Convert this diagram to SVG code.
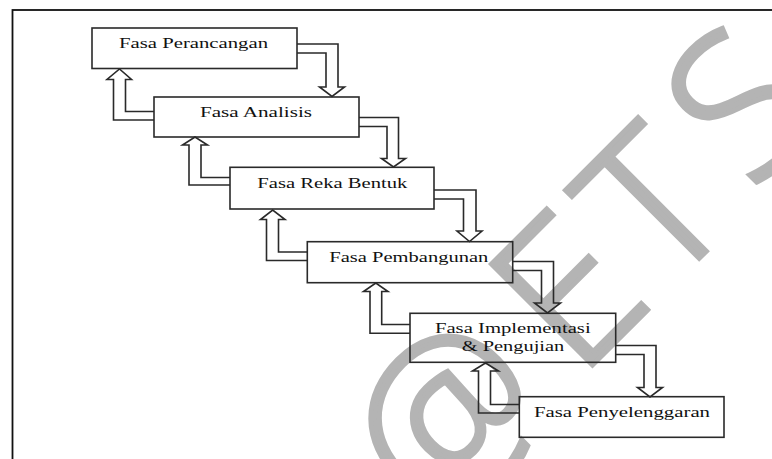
<svg xmlns="http://www.w3.org/2000/svg" width="772" height="459" viewBox="0 0 772 459">
  <style>
    .wm { font-family: "Open Sans", "DejaVu Sans", sans-serif; font-weight: 300; font-size: 200px; fill: #b4b4b4; stroke: #b4b4b4; stroke-width: 5; text-anchor: middle; }
    .box { fill: none; stroke: #2a2a2a; stroke-width: 1.6; }
    .arr { fill: none; stroke: #2a2a2a; stroke-width: 1.6; stroke-linejoin: miter; }
    .lbl { font-family: "Liberation Serif", "DejaVu Serif", "Times New Roman", serif; font-size: 15.5px; fill: #111; text-anchor: middle; }
  </style>
  <rect x="0" y="0" width="772" height="459" fill="#fff"/>
  <g id="watermark" transform="rotate(-45)">
    <text class="wm" x="21" y="677">@</text>
    <text class="wm" x="196" y="677">E</text>
    <text class="wm" x="317" y="677">T</text>
    <text class="wm" x="450" y="668">S</text>
  </g>
  <rect x="12.5" y="10" width="800" height="500" fill="none" stroke="#111" stroke-width="1.8"/>
  <g id="connectors">
    <path class="arr" d="M297 44 H338 V87 H344.5 L332 96.5 L319.5 87 H326 V53 H297"/>
    <path class="arr" d="M359 117.5 H398.5 V158.5 H405.5 L393.5 167 L381.5 158.5 H387 V126.5 H359"/>
    <path class="arr" d="M434 190 H476 V231 H482 L469.5 241.5 L457 231 H463.5 V199 H434"/>
    <path class="arr" d="M513 261.5 H553.5 V303 H560.5 L547.5 313 L534.5 303 H541.5 V270.5 H513"/>
    <path class="arr" d="M616 345.5 H656 V387.5 H662.5 L650 397 L637.5 387.5 H644 V354.5 H616"/>
    <path class="arr" d="M154 120 H113.5 V79.5 H107 L119.5 69 L131.5 79.5 H125.5 V111.5 H154"/>
    <path class="arr" d="M230 185 H189 V145 H182.5 L195 137 L207.5 145 H201 V177.5 H230"/>
    <path class="arr" d="M307 260.5 H266.5 V219.5 H260.5 L272.7 210 L285 219.5 H278.5 V252 H307"/>
    <path class="arr" d="M410 333.3 H370 V291.5 H363.5 L375.8 283 L388 291.5 H381.7 V324.5 H410"/>
    <path class="arr" d="M519 413 H478.5 V371 H472.5 L485.5 363 L498.5 371 H490.5 V404.5 H519"/>
  </g>
  <g id="n1">
    <rect class="box" x="92" y="28" width="205" height="40.5"/>
    <text class="lbl" x="193.5" y="48.3" textLength="149" lengthAdjust="spacingAndGlyphs">Fasa Perancangan</text>
  </g>
  <g id="n2">
    <rect class="box" x="154" y="97" width="205" height="40"/>
    <text class="lbl" x="256" y="117.3" textLength="112" lengthAdjust="spacingAndGlyphs">Fasa Analisis</text>
  </g>
  <g id="n3">
    <rect class="box" x="230" y="167.3" width="204" height="41.7"/>
    <text class="lbl" x="332.3" y="187.7" textLength="150" lengthAdjust="spacingAndGlyphs">Fasa Reka Bentuk</text>
  </g>
  <g id="n4">
    <rect class="box" x="307.3" y="241.7" width="205.4" height="41"/>
    <text class="lbl" x="408.8" y="262.3" textLength="159" lengthAdjust="spacingAndGlyphs">Fasa Pembangunan</text>
  </g>
  <g id="n5">
    <rect class="box" x="410" y="313.3" width="205.7" height="49"/>
    <text class="lbl" x="512.8" y="333.3" textLength="155.7" lengthAdjust="spacingAndGlyphs">Fasa Implementasi</text>
    <text class="lbl" x="513" y="351" textLength="102.7" lengthAdjust="spacingAndGlyphs">&amp; Pengujian</text>
  </g>
  <g id="n6">
    <rect class="box" x="519.3" y="396.7" width="204.7" height="40.6"/>
    <text class="lbl" x="622" y="416.7" textLength="176" lengthAdjust="spacingAndGlyphs">Fasa Penyelenggaran</text>
  </g>
</svg>
